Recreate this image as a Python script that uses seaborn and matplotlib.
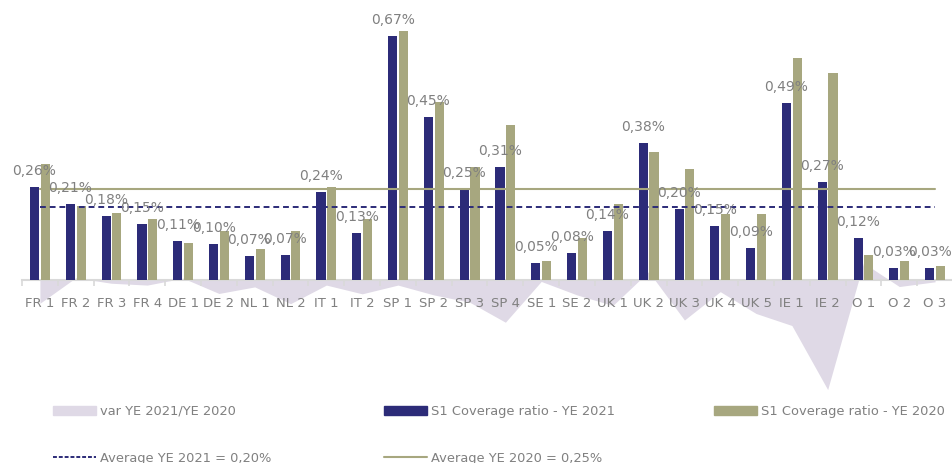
import numpy as np
import pandas as pd
import seaborn as sns
import matplotlib.pyplot as plt
from matplotlib.patches import Patch
from matplotlib.lines import Line2D

# values in % (0.67 means 0,67%)
categories = ["FR 1", "FR 2", "FR 3", "FR 4", "DE 1", "DE 2", "NL 1", "NL 2",
              "IT 1", "IT 2", "SP 1", "SP 2", "SP 3", "SP 4", "SE 1", "SE 2",
              "UK 1", "UK 2", "UK 3", "UK 4", "UK 5", "IE 1", "IE 2",
              "O 1", "O 2", "O 3"]
ye2021 = [0.255, 0.209, 0.176, 0.153, 0.107, 0.098, 0.065, 0.070,
          0.241, 0.130, 0.670, 0.449, 0.250, 0.310, 0.047, 0.074,
          0.135, 0.375, 0.195, 0.148, 0.088, 0.485, 0.268,
          0.116, 0.033, 0.033]
ye2020 = [0.319, 0.203, 0.185, 0.167, 0.102, 0.135, 0.084, 0.135,
          0.255, 0.168, 0.684, 0.490, 0.311, 0.426, 0.051, 0.115,
          0.209, 0.352, 0.305, 0.180, 0.180, 0.610, 0.569,
          0.069, 0.051, 0.038]
var_21_20 = [-0.064, 0.006, -0.009, -0.014, 0.005, -0.037, -0.019, -0.065,
             -0.014, -0.038, -0.014, -0.041, -0.061, -0.116, -0.004, -0.041,
             -0.070, 0.023, -0.110, -0.032, -0.092, -0.125, -0.301,
             0.047, -0.018, -0.005]
labels_2021 = ["0,26%", "0,21%", "0,18%", "0,15%", "0,11%", "0,10%", "0,07%", "0,07%",
               "0,24%", "0,13%", "0,67%", "0,45%", "0,25%", "0,31%", "0,05%", "0,08%",
               "0,14%", "0,38%", "0,20%", "0,15%", "0,09%", "0,49%", "0,27%",
               "0,12%", "0,03%", "0,03%"]
avg_2021 = 0.20
avg_2020 = 0.25

s21 = "S1 Coverage ratio - YE 2021"
s20 = "S1 Coverage ratio - YE 2020"
navy = "#2C2B78"
olive = "#A7A77F"
lav = "#DFD9E6"
grey = "#808080"

n = len(categories)
df = pd.DataFrame({
    "cat": categories * 2,
    "series": [s21] * n + [s20] * n,
    "value": ye2021 + ye2020,
})

sns.set_style("white")
plt.rcParams["font.family"] = ["DejaVu Sans"]

fig = plt.figure(figsize=(9.53, 4.63), dpi=100)
ax = fig.add_axes([22 / 953, 66.5 / 463, 931 / 953, 396.5 / 463])

x = np.arange(n)
ax.fill_between(x, var_21_20, 0, color=lav, lw=0, zorder=0)

sns.barplot(data=df, x="cat", y="value", hue="series", order=categories,
            hue_order=[s21, s20], palette=[navy, olive], saturation=1,
            width=0.6, gap=0.15, linewidth=0, legend=False, ax=ax, zorder=2)

ax.plot(x, [avg_2021] * n, color=navy, lw=1.4, ls=(0, (3, 2)), zorder=3)
ax.plot(x, [avg_2020] * n, color=olive, lw=1.5, zorder=3)

for bar, lab in zip(ax.containers[0], labels_2021):
    ax.annotate(lab, (bar.get_x() + bar.get_width() / 2, bar.get_height()),
                xytext=(0, 11.5), textcoords="offset points",
                ha="center", va="center", fontsize=10, color=grey, zorder=4)

ax.set_xlim(-0.5, n - 0.5)
ax.set_ylim(-0.32, 0.769)
ax.set_yticks([])
ax.set_xlabel("")
ax.set_ylabel("")
for s in ["top", "right", "left"]:
    ax.spines[s].set_visible(False)
ax.spines["bottom"].set_position(("data", 0))
ax.spines["bottom"].set_color("#D9D9D9")
ax.spines["bottom"].set_linewidth(1.5)
ax.spines["bottom"].set_zorder(1)

ax.set_xticks(np.arange(n + 1) - 0.5, minor=True)
ax.tick_params(axis="x", which="major", length=0, pad=12, labelsize=9.5,
               labelcolor=grey)
ax.tick_params(axis="x", which="minor", length=4, width=1.2, color="#D9D9D9",
               direction="out", bottom=True)

# legend, laid out in three columns under the chart
leg_kw = dict(loc="upper left", frameon=False, borderpad=0, borderaxespad=0,
              handlelength=3.3, handleheight=0.7, handletextpad=0.3,
              labelspacing=2.6, fontsize=9.4, labelcolor=grey)
col1 = [Patch(color=lav), Line2D([], [], color=navy, lw=1.4, ls=(0, (2, 1)))]
col2 = [Patch(color=navy), Line2D([], [], color=olive, lw=1.5)]
col3 = [Patch(color=olive)]
top = 1 - 405 / 463
fig.legend(col1, ["var YE 2021/YE 2020", "Average YE 2021 = 0,20%"],
           bbox_to_anchor=(53 / 953, top), **leg_kw)
fig.legend(col2, [s21, "Average YE 2020 = 0,25%"],
           bbox_to_anchor=(384 / 953, top), **leg_kw)
fig.legend(col3, [s20],
           bbox_to_anchor=(714 / 953, top), **leg_kw)

fig.savefig("out.png", dpi=100)
